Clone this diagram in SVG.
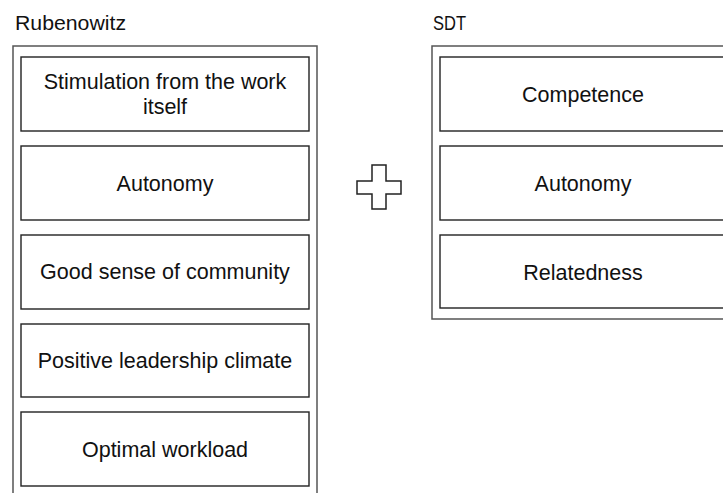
<svg xmlns="http://www.w3.org/2000/svg" width="723" height="493" viewBox="0 0 723 493">
  <style>
    .title { font-family: "Liberation Sans", Arial, sans-serif; font-size: 19.5px; fill: #111; }
    .label { font-family: "Liberation Sans", Arial, sans-serif; font-size: 21.5px; fill: #111; text-anchor: middle; }
    .panel { fill: #fff; stroke: #555; stroke-width: 1.5; }
    .box { fill: #fff; stroke: #222; stroke-width: 1.4; }
    .plus { fill: #fff; stroke: #222; stroke-width: 1.5; }
  </style>
  <rect width="723" height="493" fill="#fff"/>

  <!-- Rubenowitz column -->
  <g id="rubenowitz">
    <text class="title" x="15" y="30" textLength="111" lengthAdjust="spacingAndGlyphs">Rubenowitz</text>
    <rect class="panel" x="13" y="46" width="304" height="470"/>
  </g>
  <g id="r-stimulation">
    <rect class="box" x="21" y="57" width="288" height="74"/>
    <text class="label" x="165" y="89">Stimulation from the work</text>
    <text class="label" x="165" y="114">itself</text>
  </g>
  <g id="r-autonomy">
    <rect class="box" x="21" y="146" width="288" height="74"/>
    <text class="label" x="165" y="191">Autonomy</text>
  </g>
  <g id="r-community">
    <rect class="box" x="21" y="235" width="288" height="74"/>
    <text class="label" x="165" y="279">Good sense of community</text>
  </g>
  <g id="r-leadership">
    <rect class="box" x="21" y="324" width="288" height="73"/>
    <text class="label" x="165" y="368">Positive leadership climate</text>
  </g>
  <g id="r-workload">
    <rect class="box" x="21" y="412" width="288" height="74"/>
    <text class="label" x="165" y="457">Optimal workload</text>
  </g>

  <!-- combining sign -->
  <g id="plus">
    <polygon class="plus" points="372,165 386,165 386,181 401,181 401,194 386,194 386,209 372,209 372,194 357,194 357,181 372,181"/>
  </g>

  <!-- SDT column -->
  <g id="sdt">
    <text class="title" x="433" y="30" textLength="33" lengthAdjust="spacingAndGlyphs">SDT</text>
    <rect class="panel" x="432" y="46" width="304" height="273"/>
  </g>
  <g id="s-competence">
    <rect class="box" x="440" y="57" width="288" height="74"/>
    <text class="label" x="583" y="102">Competence</text>
  </g>
  <g id="s-autonomy">
    <rect class="box" x="440" y="146" width="288" height="74"/>
    <text class="label" x="583" y="191">Autonomy</text>
  </g>
  <g id="s-relatedness">
    <rect class="box" x="440" y="235" width="288" height="73"/>
    <text class="label" x="583" y="280">Relatedness</text>
  </g>
</svg>
